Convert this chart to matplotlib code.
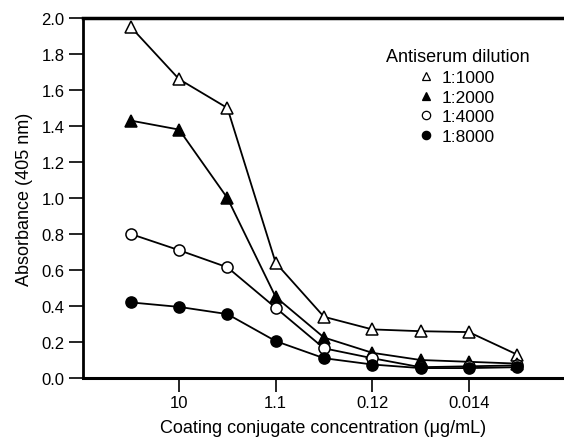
import matplotlib
matplotlib.use("Agg")
import matplotlib.pyplot as plt
from matplotlib.lines import Line2D

plt.rcParams['font.family'] = ['Liberation Sans', 'DejaVu Sans']

x_pos = [1, 2, 3, 4, 5, 6, 7, 8, 9]
tick_pos = [2, 4, 6, 8]
tick_labels = ["10", "1.1", "0.12", "0.014"]
labels = ["1:1000", "1:2000", "1:4000", "1:8000"]
s1000 = [1.95, 1.66, 1.50, 0.64, 0.34, 0.27, 0.26, 0.255, 0.13]
s2000 = [1.43, 1.38, 1.00, 0.45, 0.225, 0.14, 0.10, 0.09, 0.08]
s4000 = [0.80, 0.71, 0.615, 0.39, 0.165, 0.11, 0.06, 0.065, 0.07]
s8000 = [0.42, 0.395, 0.355, 0.205, 0.11, 0.075, 0.055, 0.055, 0.06]

fig = plt.figure(figsize=(5.64, 4.39), dpi=100)
ax = fig.add_axes([82.5/564, 1 - 379/439, (564 - 82.5)/564, (379 - 19)/439])

styles = [
    (s1000, '^', 'white'),
    (s2000, '^', 'black'),
    (s4000, 'o', 'white'),
    (s8000, 'o', 'black'),
]
for (vals, m, fc) in styles:
    ax.plot(x_pos, vals, color='black', lw=1.3, marker=m, markersize=8,
            markerfacecolor=fc, markeredgecolor='black', markeredgewidth=1.1,
            zorder=3, clip_on=False)

ax.set_xlim(0, 9.97)
ax.set_ylim(0, 2.0)
ax.set_xticks(tick_pos)
ax.set_xticklabels(tick_labels)
yt = [0.0, 0.2, 0.4, 0.6, 0.8, 1.0, 1.2, 1.4, 1.6, 1.8, 2.0]
ax.set_yticks(yt)
ax.set_yticklabels([f"{v:.1f}" for v in yt])
ax.tick_params(axis='both', direction='out', length=10, width=1.2, labelsize=12, pad=3)
ax.tick_params(axis='x', pad=2)

ax.spines['right'].set_visible(False)
ax.spines['top'].set_linewidth(2.5)
ax.spines['bottom'].set_linewidth(2.2)
ax.spines['left'].set_linewidth(2.0)

ax.set_xlabel("Coating conjugate concentration (\u03bcg/mL)", fontsize=13, labelpad=7)
ax.set_ylabel("Absorbance (405 nm)", fontsize=13, labelpad=6)

handles = []
for (vals, m, fc), lab in zip(styles, labels):
    handles.append(Line2D([], [], linestyle='none', marker=m, markersize=6,
                          markerfacecolor=fc, markeredgecolor='black',
                          markeredgewidth=0.9, label=lab))
leg = ax.legend(handles=handles, title="Antiserum dilution", frameon=False,
                loc='upper left', bbox_to_anchor=(0.613, 0.94),
                fontsize=12.5, title_fontsize=13, handlelength=0.6,
                handletextpad=0.6, labelspacing=0.26, borderpad=0)
leg._legend_box.align = 'center'

fig.savefig("out.png", dpi=100)
